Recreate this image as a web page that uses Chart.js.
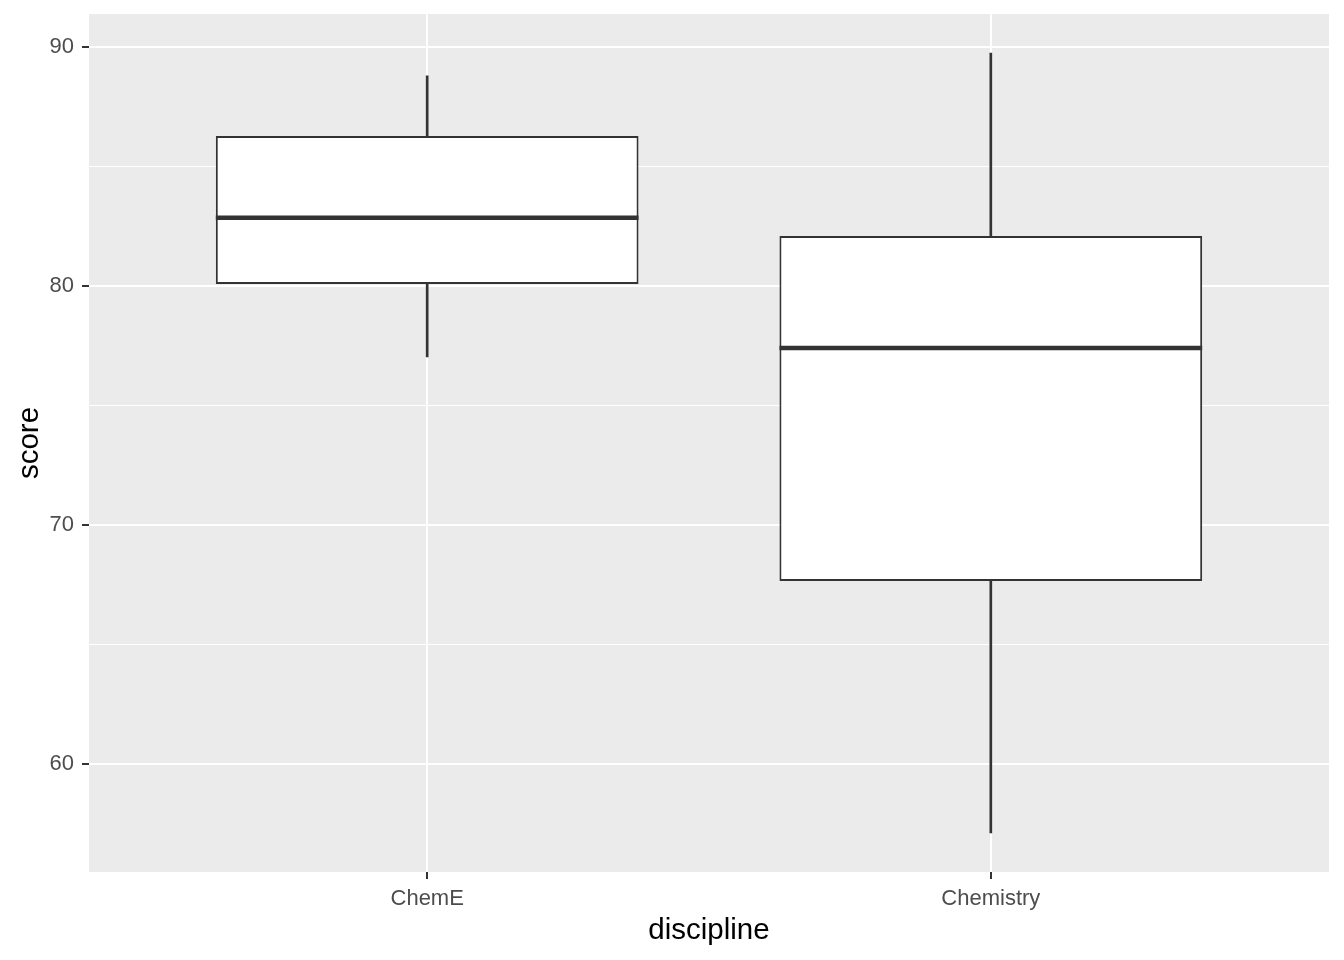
<!DOCTYPE html>
<html>
<head>
<meta charset="utf-8">
<script src="https://cdn.jsdelivr.net/npm/chart.js@4/dist/chart.umd.min.js"></script>
<style>
  html, body { margin: 0; padding: 0; background: #ffffff; }
  #wrap { width: 1344px; height: 960px; position: relative; }
</style>
</head>
<body>
<div id="wrap"><canvas id="c" width="1344" height="960"></canvas></div>
<script>
const categories = ['ChemE', 'Chemistry'];
const positions = [1, 2];
const whiskerLow = [77.03, 57.11];
const q1 = [80.08, 67.66];
const medians = [82.85, 77.41];
const q3 = [86.28, 82.09];
const whiskerHigh = [88.79, 89.75];
const yTicks = [60, 65, 70, 75, 80, 85, 90];

const boxHalf = 0.375;
const ink = '#333333';

const panelBg = {
  id: 'panelBg',
  beforeDraw(chart) {
    const {ctx, chartArea: a} = chart;
    ctx.save();
    ctx.fillStyle = '#EBEBEB';
    ctx.fillRect(a.left, a.top, a.right - a.left, a.bottom - a.top);
    ctx.restore();
  }
};

const medianLines = {
  id: 'medianLines',
  afterDatasetsDraw(chart) {
    const {ctx, scales: {x, y}} = chart;
    ctx.save();
    ctx.strokeStyle = ink;
    ctx.lineWidth = 4.5;
    ctx.lineCap = 'butt';
    medians.forEach((m, i) => {
      const py = y.getPixelForValue(m);
      ctx.beginPath();
      ctx.moveTo(x.getPixelForValue(positions[i] - boxHalf), py);
      ctx.lineTo(x.getPixelForValue(positions[i] + boxHalf), py);
      ctx.stroke();
    });
    ctx.restore();
  }
};

new Chart(document.getElementById('c'), {
  type: 'bar',
  data: {
    datasets: [
      {
        label: 'box',
        data: positions.map((p, i) => ({x: p, y: [q1[i], q3[i]]})),
        backgroundColor: '#FFFFFF',
        borderColor: ink,
        borderWidth: 2,
        borderSkipped: false,
        grouped: false,
        barPercentage: 0.75,
        categoryPercentage: 1,
        order: 0
      },
      {
        label: 'whisker',
        data: positions.map((p, i) => ({x: p, y: [whiskerLow[i], whiskerHigh[i]]})),
        backgroundColor: ink,
        borderWidth: 0,
        grouped: false,
        barThickness: 2,
        order: 1
      }
    ]
  },
  options: {
    responsive: false,
    animation: false,
    events: [],
    layout: { padding: { top: 14, right: 15, bottom: 0, left: 0 } },
    plugins: { legend: { display: false }, tooltip: { enabled: false } },
    scales: {
      x: {
        type: 'linear',
        min: 0.4,
        max: 2.6,
        offset: false,
        afterBuildTicks(s) { s.ticks = positions.map(v => ({value: v})); },
        afterFit(s) { s.height = 88; s.paddingLeft = 0; s.paddingRight = 0; },
        border: { display: false },
        grid: {
          offset: false,
          color: '#FFFFFF',
          lineWidth: 2,
          tickColor: ink,
          tickWidth: 2,
          tickLength: 7,
          drawTicks: true
        },
        ticks: {
          autoSkip: false,
          maxRotation: 0,
          padding: 7,
          color: '#4D4D4D',
          font: { family: 'Liberation Sans', size: 22 },
          callback(v) { const i = positions.indexOf(v); return i >= 0 ? categories[i] : ''; }
        },
        title: {
          display: true,
          text: 'discipline',
          color: '#000000',
          font: { family: 'Liberation Sans', size: 29.5 },
          padding: { top: 11, bottom: 11 }
        }
      },
      y: {
        type: 'linear',
        min: 55.48,
        max: 91.38,
        afterBuildTicks(s) { s.ticks = yTicks.map(v => ({value: v})); },
        afterFit(s) { s.width = 89; s.paddingTop = 0; s.paddingBottom = 0; },
        border: { display: false },
        grid: {
          color: '#FFFFFF',
          lineWidth: ctx => (ctx.tick && ctx.tick.value % 10 !== 0) ? 1 : 2,
          tickColor: ctx => (ctx.tick && ctx.tick.value % 10 !== 0) ? 'rgba(0,0,0,0)' : ink,
          tickWidth: 2,
          tickLength: 7
        },
        ticks: {
          autoSkip: false,
          padding: 8,
          color: '#4D4D4D',
          font: { family: 'Liberation Sans', size: 22 },
          callback(v) { return v % 10 === 0 ? String(v) : ''; }
        },
        title: {
          display: true,
          text: 'score',
          color: '#000000',
          font: { family: 'Liberation Sans', size: 29.5 },
          padding: { top: 12, bottom: 12 }
        }
      }
    }
  },
  plugins: [panelBg, medianLines]
});
</script>
</body>
</html>
